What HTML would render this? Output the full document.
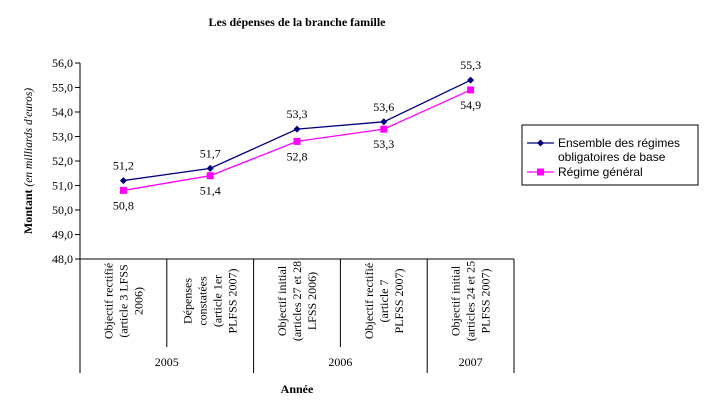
<!DOCTYPE html>
<html><head><meta charset="utf-8"><style>
body{margin:0;background:#fff}
svg text{font-family:"Liberation Serif",serif;fill:#000}
</style></head><body>
<svg id="c" width="705" height="415" xmlns="http://www.w3.org/2000/svg">
<text x="297" y="26" text-anchor="middle" font-size="12" font-weight="bold">Les dépenses de la branche famille</text>
<text transform="translate(32,161) rotate(-90)" text-anchor="middle" font-size="12"><tspan font-weight="bold">Montant</tspan><tspan font-style="italic" font-size="11.5">   (en milliards d'euros)</tspan></text>
<text x="297" y="393" text-anchor="middle" font-size="12" font-weight="bold">Année</text>
<g id="axes"></g><g id="marks"></g>
<g>
<rect x="522" y="125" width="176" height="60" fill="#fff" stroke="#000" stroke-width="1"/>
<line x1="527" y1="143" x2="554" y2="143" stroke="#000080" stroke-width="1.3"/>
<path d="M540.5 139.5 L544 143 L540.5 146.5 L537 143Z" fill="#000080"/>
<text x="558" y="147" style="font-family:'Liberation Sans',sans-serif" font-size="12">Ensemble des régimes</text>
<text x="558" y="161" style="font-family:'Liberation Sans',sans-serif" font-size="12">obligatoires de base</text>
<line x1="527" y1="172" x2="554" y2="172" stroke="#ff00ff" stroke-width="1.3"/>
<rect x="537" y="168.5" width="7" height="7" fill="#ff00ff"/>
<text x="558" y="176" style="font-family:'Liberation Sans',sans-serif" font-size="12">Régime général</text>
</g>
</svg>
<script>
const categories=[["Objectif rectifié","(article 3 LFSS","2006)"],["Dépenses","constatées","(article 1er","PLFSS 2007)"],["Objectif initial","(articles 27 et 28","LFSS 2006)"],["Objectif rectifié","(article 7","PLFSS 2007)"],["Objectif initial","(articles 24 et 25","PLFSS 2007)"]];
const years=["2005","2006","2007"];
const yearSpans=[2,2,1];
const ensemble=[51.2,51.7,53.3,53.6,55.3];
const general=[50.8,51.4,52.8,53.3,54.9];
const yTicks=[48,49,50,51,52,53,54,55,56];
const NS="http://www.w3.org/2000/svg";
const X0=80,X1=514,Y0=259,Y1=63,YMIN=48,YMAX=56;
const cw=(X1-X0)/categories.length;
const xs=i=>X0+cw*(i+0.5);
const ys=v=>Y0-(v-YMIN)/(YMAX-YMIN)*(Y0-Y1);
function mk(t,a,p){const e=document.createElementNS(NS,t);for(const k in a)e.setAttribute(k,a[k]);p.appendChild(e);return e;}
const ax=document.getElementById('axes'),mg=document.getElementById('marks');
const yl=mk('line',{x1:X0,y1:Y1,x2:X0,y2:373,stroke:'#000'},ax);


const xl=mk('line',{x1:X0,y1:Y0,x2:X1,y2:Y0,stroke:'#000'},ax);


yTicks.forEach(v=>{const y=ys(v);mk('line',{x1:X0-5,y1:y,x2:X0,y2:y,stroke:'#000'},ax);
const t=mk('text',{x:X0-7,y:y+4,'text-anchor':'end','font-size':'12'},ax);t.textContent=v.toFixed(1).replace('.',',');

});
categories.forEach((lines,i)=>{const cx=xs(i);const n=lines.length;
lines.forEach((s,j)=>{const t=mk('text',{transform:`translate(${cx+(j-(n-1)/2)*15+4},${301}) rotate(-90)`,'text-anchor':'middle','font-size':'12'},ax);t.textContent=s;

});});
let idx=0;
years.forEach((yr,k)=>{const s=idx,e=idx+yearSpans[k];
for(let i=s+1;i<e;i++)mk('line',{x1:X0+cw*i,y1:Y0,x2:X0+cw*i,y2:347,stroke:'#000'},ax);
mk('line',{x1:X0+cw*e,y1:Y0,x2:X0+cw*e,y2:373,stroke:'#000'},ax);
const t=mk('text',{x:X0+cw*(s+e)/2,y:366,'text-anchor':'middle','font-size':'12'},ax);t.textContent=yr;

idx=e;});
function series(d,col,name,shape,dy){
const p=mk('polyline',{points:d.map((v,i)=>xs(i)+','+ys(v)).join(' '),fill:'none',stroke:col,'stroke-width':1.3},mg);


d.forEach((v,i)=>{const x=xs(i),y=ys(v);let m;
if(shape==='d')m=mk('path',{d:`M${x} ${y-3.5}L${x+3.5} ${y}L${x} ${y+3.5}L${x-3.5} ${y}Z`,fill:col},mg);
else m=mk('rect',{x:x-3.5,y:y-3.5,width:7,height:7,fill:col},mg);


const t=mk('text',{x:x,y:y+dy,'text-anchor':'middle','font-size':'12'},mg);t.textContent=v.toFixed(1).replace('.',',');

});}
series(ensemble,'#000080','ensemble','d',-11);
series(general,'#ff00ff','general','s',19);
</script>
</body></html>
